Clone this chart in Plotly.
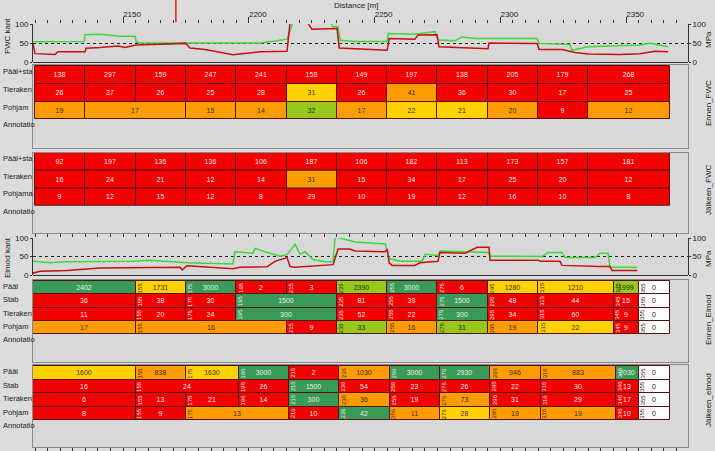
import plotly.graph_objects as go

# ---------------- data ----------------
DISTANCE_RANGE = [2114.2, 2374.6]
CURSOR_DISTANCE = 2171

# FWC kant line data (distance m, MPa)
FWC_GREEN_X = [2114.2, 2134.5, 2134.9, 2140.8, 2148.8, 2154.8, 2155.2, 2156.7, 2175.0, 2193.7, 2204.5, 2211.2,
               2215.2, 2217.6, 2232.3, 2233.5, 2235.5, 2236.3, 2242.2, 2255.0, 2255.4, 2266.0, 2273.2, 2274.0,
               2275.2, 2282.0, 2284.8, 2290.0, 2314.6, 2315.4, 2327.7, 2328.5, 2334.9, 2355.5, 2359.5, 2366.7]
FWC_GREEN_Y = [53, 54, 72, 73, 68, 68, 53, 50, 50, 49, 50, 56,
               60, 105, 105, 93, 93, 57, 54, 54, 75, 73, 78, 80,
               58, 56, 66, 62, 62, 49, 46, 31, 40, 45, 49, 40]
FWC_RED_X = [2114.2, 2115.0, 2123.0, 2124.1, 2134.9, 2135.3, 2140.8, 2148.0, 2150.8, 2155.2, 2175.0, 2176.6,
             2182.6, 2193.7, 2204.5, 2215.2, 2216.4, 2223.2, 2225.1, 2235.1, 2235.9, 2255.0, 2255.8, 2266.0,
             2267.3, 2274.8, 2275.6, 2295.1, 2295.5, 2314.6, 2315.4, 2324.5, 2329.7, 2334.9, 2347.6, 2355.5,
             2361.5, 2366.7]
FWC_RED_Y = [49, 22, 20, 27, 27, 36, 38, 42, 38, 45, 49, 37,
             33, 19, 27, 28, 105, 105, 86, 88, 37, 31, 62, 60,
             71, 72, 40, 35, 50, 49, 33, 33, 25, 21, 20, 22,
             28, 27]

# Elmod kant line data
ELM_GREEN_X = [2114.2, 2121.0, 2127.7, 2154.0, 2160.7, 2175.4, 2193.7, 2194.5, 2201.7, 2202.5, 2206.4, 2212.4,
               2215.2, 2218.4, 2220.4, 2222.4, 2225.5, 2230.3, 2233.5, 2234.3, 2242.2, 2252.2, 2254.2, 2255.8,
               2260.1, 2268.9, 2270.1, 2275.2, 2276.0, 2295.1, 2295.9, 2316.6, 2319.0, 2324.5, 2325.7, 2337.7,
               2339.6, 2342.8, 2343.6, 2354.4]
ELM_GREEN_Y = [37, 33, 36, 37, 40, 33, 30, 63, 59, 72, 63, 51,
               55, 83, 56, 63, 42, 36, 36, 103, 89, 84, 84, 44,
               37, 37, 56, 53, 65, 61, 51, 50, 61, 61, 47, 47,
               59, 59, 21, 21]
ELM_RED_X = [2114.2, 2117.0, 2127.7, 2140.8, 2172.7, 2173.5, 2175.4, 2193.7, 2196.5, 2207.2, 2210.4, 2215.2,
             2216.4, 2218.4, 2233.5, 2235.5, 2240.2, 2242.2, 2254.2, 2255.0, 2255.8, 2257.0, 2266.0, 2268.0,
             2275.2, 2276.0, 2286.0, 2288.0, 2290.8, 2295.5, 2295.9, 2315.0, 2315.8, 2323.7, 2324.5, 2339.6,
             2343.6, 2344.4, 2354.4]
ELM_RED_Y = [5, 10, 12, 19, 21, 14, 25, 17, 21, 22, 37, 47,
             23, 21, 28, 70, 70, 65, 63, 70, 33, 26, 26, 33,
             37, 61, 59, 65, 75, 75, 40, 40, 37, 37, 26, 23,
             23, 12, 12]

# Table cells: boundaries (m), values, quality class (r red, o orange, y yellow, g light green, G green, w none)
FWC_B = [2115, 2135, 2155, 2175, 2195, 2215, 2235, 2255, 2275, 2295, 2315, 2335, 2367.5]
FWC_POHJ_B = [2115, 2135, 2175, 2195, 2215, 2235, 2255, 2275, 2295, 2315, 2335, 2367.5]

EF_PS_V = [138, 297, 159, 247, 241, 158, 149, 197, 138, 205, 179, 268]
EF_PS_C = "rrrrrrrrrrrr"
EF_TR_V = [26, 37, 26, 25, 28, 31, 26, 41, 36, 30, 17, 25]
EF_TR_C = "rrrrryrorrrr"
EF_PO_V = [19, 17, 15, 14, 32, 17, 22, 21, 20, 9, 12]
EF_PO_C = "oooogoyyoro"

JF_PS_V = [92, 197, 136, 136, 106, 187, 106, 182, 113, 173, 157, 181]
JF_PS_C = "rrrrrrrrrrrr"
JF_TR_V = [16, 24, 21, 12, 14, 31, 15, 34, 17, 25, 20, 12]
JF_TR_C = "rrrrrorrrrrr"
JF_PO_V = [9, 12, 15, 12, 8, 29, 10, 19, 12, 16, 10, 8]
JF_PO_C = "rrrrrrrrrrrr"

EE_PA_B = [2114.3, 2155, 2175, 2195, 2215, 2235, 2255, 2275, 2295, 2315, 2345, 2355, 2367.5]
EE_PA_V = [2402, 1731, 3000, 2, 3, 2390, 3000, 6, 1280, 1210, 1999, 0]
EE_PA_C = "GyGrrgGryygw"
EE_ST_B = [2114.3, 2155, 2175, 2195, 2235, 2255, 2275, 2295, 2315, 2345, 2355, 2367.5]
EE_ST_V = [36, 38, 30, 1500, 81, 39, 1500, 48, 44, 15, 0]
EE_ST_C = "rrrGrrGrrrw"
EE_TR_B = [2114.3, 2155, 2175, 2195, 2235, 2255, 2275, 2295, 2315, 2345, 2355, 2367.5]
EE_TR_V = [11, 20, 24, 300, 52, 22, 300, 34, 60, 9, 0]
EE_TR_C = "rrrGrrGrrrw"
EE_PO_B = [2114.3, 2155, 2215, 2235, 2255, 2275, 2295, 2315, 2345, 2355, 2367.5]
EE_PO_V = [17, 16, 9, 33, 16, 31, 19, 22, 9, 0]
EE_PO_C = "oorgogoyrw"

JE_PA_B = [2114.3, 2155, 2175, 2196, 2216, 2236, 2256, 2276, 2296, 2316, 2346, 2355, 2367.5]
JE_PA_V = [1600, 838, 1630, 3000, 2, 1030, 3000, 2930, 946, 883, 2030, 0]
JE_PA_C = "yoyGroGGooGw"
JE_ST_B = [2114.3, 2155, 2196, 2216, 2236, 2256, 2276, 2296, 2316, 2346, 2355, 2367.5]
JE_ST_V = [16, 24, 26, 1500, 54, 23, 26, 22, 30, 13, 0]
JE_ST_C = "rrrGrrrrrrw"
JE_TR_B = [2114.3, 2155, 2175, 2196, 2216, 2236, 2256, 2276, 2296, 2316, 2346, 2355, 2367.5]
JE_TR_V = [6, 13, 21, 14, 300, 36, 19, 73, 31, 29, 17, 0]
JE_TR_C = "rrrrGororrrw"
JE_PO_B = [2114.3, 2155, 2175, 2216, 2236, 2256, 2276, 2296, 2316, 2346, 2355, 2367.5]
JE_PO_V = [8, 9, 13, 10, 42, 11, 28, 19, 19, 10, 0]
JE_PO_C = "rrorGoyoorw"

# ---------------- styling ----------------
W, H = 715, 451
ML, MR = 33, 27
PW = W - ML - MR
FONT = "Liberation Sans, Arial, sans-serif"
COL = {"r": "#f20000", "o": "#ff9c00", "y": "#ffd200", "g": "#98c81c", "G": "#3a9a58", "w": "#ffffff"}
TXT = {"r": "#ffe8e8", "o": "#3a2a10", "y": "#3a3010", "g": "#203010", "G": "#e6f0e6", "w": "#202020"}
BORDER = "#5a1010"
PAPER = "#dcdcdc"
PLOT = "#d8d8d8"

# panel pixel extents (top, bottom)
P = {1: (24, 62), 2: (65, 148.3), 3: (152.7, 232.7), 4: (238, 275), 5: (280, 362.3), 6: (365, 447.3)}


def ydom(p):
    t, b = P[p]
    return [1 - b / H, 1 - t / H]


def px_x(px):
    return (px - ML) / PW


def px_y(py):
    return 1 - py / H


fig = go.Figure()
annotations = []

# line charts
for (gx, gy, rx, ry, ax) in [(FWC_GREEN_X, FWC_GREEN_Y, FWC_RED_X, FWC_RED_Y, ""),
                              (ELM_GREEN_X, ELM_GREEN_Y, ELM_RED_X, ELM_RED_Y, "4")]:
    xa = "x" + ax
    ya = "y" + ax
    fig.add_trace(go.Scatter(x=gx, y=gy, mode="lines", line=dict(color="#3ad83a", width=1.5),
                             xaxis=xa, yaxis=ya, showlegend=False, hoverinfo="skip"))
    fig.add_trace(go.Scatter(x=rx, y=ry, mode="lines", line=dict(color="#c81010", width=1.5),
                             xaxis=xa, yaxis=ya, showlegend=False, hoverinfo="skip"))

# invisible traces for right axes
fig.add_trace(go.Scatter(x=[DISTANCE_RANGE[0]], y=[0], mode="markers", marker=dict(opacity=0),
                         xaxis="x", yaxis="y7", showlegend=False, hoverinfo="skip"))
fig.add_trace(go.Scatter(x=[DISTANCE_RANGE[0]], y=[0], mode="markers", marker=dict(opacity=0),
                         xaxis="x4", yaxis="y8", showlegend=False, hoverinfo="skip"))


def add_row(panel, top, h, bounds, vals, cls, labels):
    starts = bounds[:-1]
    ends = bounds[1:]
    fig.add_trace(go.Bar(
        orientation="h", base=starts, x=[e - s for s, e in zip(starts, ends)],
        y=[top + h / 2] * len(vals), width=h,
        marker=dict(color=[COL[c] for c in cls], line=dict(color=BORDER, width=1)),
        text=[str(v) for v in vals], textposition="inside", insidetextanchor="middle",
        textangle=0, constraintext="none",
        textfont=dict(size=7, color=[TXT[c] for c in cls], family=FONT),
        xaxis="x%d" % panel, yaxis="y%d" % panel, showlegend=False, hoverinfo="skip"))
    if labels:
        for s, c in zip(starts[1:], cls[1:]):
            annotations.append(dict(x=s, y=top + h / 2, xref="x%d" % panel, yref="y%d" % panel,
                                    text=str(int(round(s)) % 1000), textangle=-90, showarrow=False,
                                    xanchor="left", yanchor="middle", xshift=0,
                                    font=dict(size=6, color=TXT[c], family=FONT), borderpad=0))


TABLES = {
    2: ([1, 19, 36.7], 17.7, 54.3, ["Pääl+sta", "Tieraken", "Pohjam", "Annotatio"],
        [(FWC_B, EF_PS_V, EF_PS_C), (FWC_B, EF_TR_V, EF_TR_C), (FWC_POHJ_B, EF_PO_V, EF_PO_C)], False),
    3: ([0.3, 17.9, 35.5], 17.6, 53.1, ["Pääl+sta", "Tieraken", "Pohjama", "Annotatio"],
        [(FWC_B, JF_PS_V, JF_PS_C), (FWC_B, JF_TR_V, JF_TR_C), (FWC_B, JF_PO_V, JF_PO_C)], False),
    5: ([1, 14.3, 27.6, 40.9], 13.3, 54.2, ["Pääl", "Stab", "Tieraken", "Pohjam", "Annotatio"],
        [(EE_PA_B, EE_PA_V, EE_PA_C), (EE_ST_B, EE_ST_V, EE_ST_C), (EE_TR_B, EE_TR_V, EE_TR_C),
         (EE_PO_B, EE_PO_V, EE_PO_C)], True),
    6: ([1, 14.5, 28, 41.5], 13.5, 55, ["Pääl", "Stab", "Tieraken", "Pohjam", "Annotatio"],
        [(JE_PA_B, JE_PA_V, JE_PA_C), (JE_ST_B, JE_ST_V, JE_ST_C), (JE_TR_B, JE_TR_V, JE_TR_C),
         (JE_PO_B, JE_PO_V, JE_PO_C)], True),
}

for p, (tops, h, ann_top, names, rows, lab) in TABLES.items():
    for t, (b, v, c) in zip(tops, rows):
        add_row(p, t, h, b, v, c, lab)
    for t, name in zip(tops + [ann_top], names):
        annotations.append(dict(x=px_x(2), y=px_y(P[p][0] + t), xref="paper", yref="paper", text=name,
                                showarrow=False, xanchor="left", yanchor="top", borderpad=0,
                                font=dict(size=7.5, color="#202020", family=FONT)))

# titles
def title(text, xpx, ypx, angle=-90, size=8):
    annotations.append(dict(x=px_x(xpx), y=px_y(ypx), xref="paper", yref="paper", text=text,
                            textangle=angle, showarrow=False, xanchor="center", yanchor="middle",
                            font=dict(size=size, color="#202020", family=FONT)))


title("Distance [m]", 356, 5, angle=0)
title("FWC kant", 7, 36)
title("Elmod kant", 7, 258)
title("MPa", 708, 40)
title("MPa", 708, 259)
title("Ennen_FWC", 708, 103)
title("Jälkeen_FWC", 708, 190)
title("Ennen_Elmod", 708, 320)
title("Jälkeen_elmod", 708, 400)

tickfont = dict(size=8, color="#202020", family=FONT)
line_y = dict(range=[0, 100], tickvals=[0, 50, 100], ticks="outside", ticklen=2, tickcolor="#333",
              tickfont=tickfont, showline=True, linecolor="#333", linewidth=1, showgrid=True,
              gridcolor="#222", griddash="dot", gridwidth=1, zeroline=True, zerolinecolor="#333",
              zerolinewidth=1, fixedrange=True)
table_x = dict(matches="x", showticklabels=False, showgrid=False, zeroline=False, showline=True,
               mirror=True, linecolor="#8a8a8a", linewidth=1, ticks="")
table_y = dict(showticklabels=False, showgrid=False, zeroline=False, showline=True, mirror=True,
               linecolor="#8a8a8a", linewidth=1, ticks="")

layout = dict(
    width=W, height=H, margin=dict(l=ML, r=MR, t=0, b=0, autoexpand=False),
    paper_bgcolor=PAPER, plot_bgcolor=PLOT, barmode="overlay", bargap=0,
    font=dict(family=FONT, size=8, color="#202020"),
    xaxis=dict(domain=[0, 1], anchor="y", range=DISTANCE_RANGE, side="top", showgrid=False, zeroline=False,
               ticks="outside", ticklen=6, tickcolor="#333", dtick=50, tick0=2150, tickfont=tickfont,
               ticklabelshift=9, ticklabelstandoff=-3, showline=False,
               minor=dict(dtick=5, tick0=2150, ticks="outside", ticklen=3, tickcolor="#333", showgrid=False)),
    yaxis=dict(domain=ydom(1), anchor="x", **line_y),
    yaxis7=dict(overlaying="y", side="right", anchor="x", range=[0, 100], tickvals=[0, 50, 100],
                ticks="outside", ticklen=2, tickcolor="#333", tickfont=tickfont, showline=True,
                linecolor="#333", showgrid=False, zeroline=False),
    xaxis2=dict(anchor="y2", **table_x),
    yaxis2=dict(domain=ydom(2), anchor="x2", range=[P[2][1] - P[2][0], 0], **table_y),
    xaxis3=dict(anchor="y3", **table_x),
    yaxis3=dict(domain=ydom(3), anchor="x3", range=[P[3][1] - P[3][0], 0], **table_y),
    xaxis4=dict(anchor="y4", matches="x", side="top", ticks="outside", ticklen=3, tickcolor="#333",
                dtick=5, tick0=2150, showticklabels=False, showgrid=False, zeroline=False, showline=False),
    yaxis4=dict(domain=ydom(4), anchor="x4", **line_y),
    yaxis8=dict(overlaying="y4", side="right", anchor="x4", range=[0, 100], tickvals=[0, 50, 100],
                ticks="outside", ticklen=2, tickcolor="#333", tickfont=tickfont, showline=True,
                linecolor="#333", showgrid=False, zeroline=False),
    xaxis5=dict(anchor="y5", **table_x),
    yaxis5=dict(domain=ydom(5), anchor="x5", range=[P[5][1] - P[5][0], 0], **table_y),
    xaxis6=dict(anchor="y6", matches="x", showticklabels=False, showgrid=False, zeroline=False,
                showline=True, mirror=True, linecolor="#8a8a8a", ticks="outside", ticklen=3,
                tickcolor="#333", dtick=5, tick0=2150),
    yaxis6=dict(domain=ydom(6), anchor="x6", range=[P[6][1] - P[6][0], 0], **table_y),
    annotations=annotations,
    shapes=[dict(type="line", xref="x", yref="paper", x0=CURSOR_DISTANCE, x1=CURSOR_DISTANCE,
                 y0=px_y(22), y1=1, line=dict(color="#e02020", width=1.5))],
)
fig.update_layout(**layout)
fig.write_html("out.html")
